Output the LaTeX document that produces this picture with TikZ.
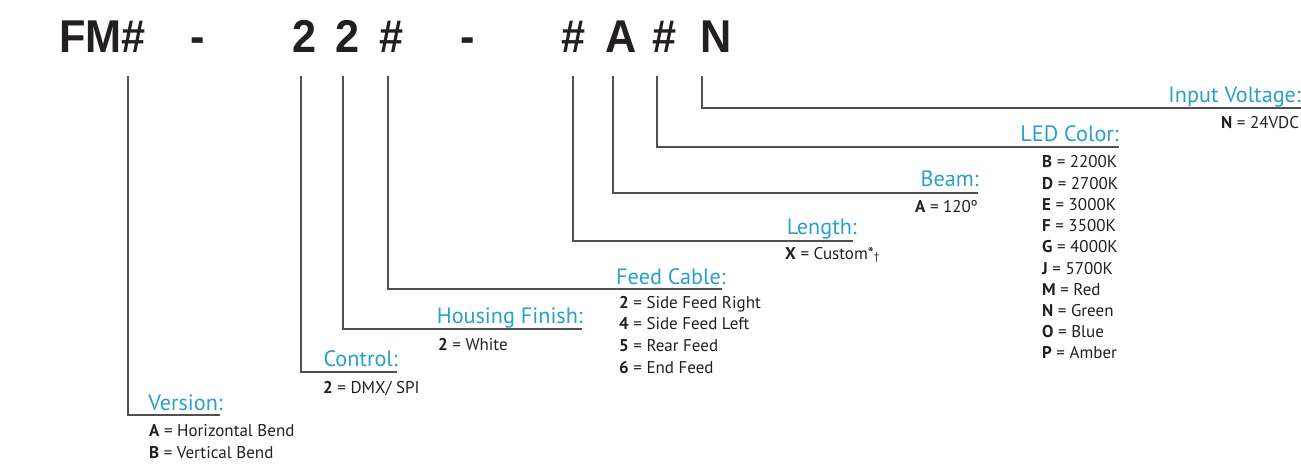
\documentclass[tikz,border=0pt]{standalone}
\usepackage{fontspec}
\setmainfont{PT Sans}
\newfontfamily\ttlfont[FakeStretch=0.94]{Liberation Sans}
\definecolor{labelblue}{RGB}{41,160,204}
\definecolor{textdark}{RGB}{35,31,32}
\definecolor{linegray}{RGB}{80,80,80}
\tikzset{
  lbl/.style={font=\fontsize{22.2}{22.2}\selectfont, text=labelblue, anchor=base east, inner sep=0pt},
  item/.style={font=\fontsize{17}{17}\selectfont, text=textdark, anchor=base west, inner sep=0pt},
  ttl/.style={font=\ttlfont\bfseries\fontsize{46}{46}\selectfont, text=textdark, anchor=base, inner sep=0pt},
  conn/.style={draw=linegray, line width=1.5pt},
}
\begin{document}
\begin{tikzpicture}[x=1pt,y=-1pt]
\useasboundingbox (0,0) rectangle (1301,465);
% title
\node[ttl] (t1) at (102.5,53) {FM\#};
\node[ttl] (t2) at (197.5,53) {-};
\node[ttl] (t3) at (304.5,53) {2};
\node[ttl] (t4) at (348,53) {2};
\node[ttl] (t5) at (392,53) {\#};
\node[ttl] (t6) at (467.5,53) {-};
\node[ttl] (t7) at (574,53) {\#};
\node[ttl] (t8) at (621,53) {A};
\node[ttl] (t9) at (665,53) {\#};
\node[ttl] (t10) at (716,53) {N};
% connector start points
\coordinate (s1) at (128,76);
\coordinate (s2) at (301,76);
\coordinate (s3) at (343,76);
\coordinate (s4) at (388,76);
\coordinate (s5) at (573,76);
\coordinate (s6) at (613,76);
\coordinate (s7) at (657,76);
\coordinate (s8) at (702,76);
% connector end points
\coordinate (e1) at (220,415);
\coordinate (e2) at (397,372);
\coordinate (e3) at (582,329);
\coordinate (e4) at (722,289);
\coordinate (e5) at (853,241);
\coordinate (e6) at (978,193);
\coordinate (e7) at (1119,147);
\coordinate (e8) at (1301,108);
\foreach \i in {1,...,8} \draw[conn] (s\i) |- (e\i);
% labels
\node[lbl] (l1) at (223,410) {Version:};
\node[lbl] (l2) at (398,366) {Control:};
\node[lbl] (l3) at (583,323) {Housing Finish:};
\node[lbl] (l4) at (726,284) {Feed Cable:};
\node[lbl] (l5) at (857,234) {Length:};
\node[lbl] (l6) at (979,187) {Beam:};
\node[lbl] (l7) at (1119,142) {LED Color:};
\node[lbl] (l8) at (1301,103) {Input Voltage:};
% items
\node[item] (v1) at (149,436) {\textbf{A} = Horizontal Bend};
\node[item] (v2) at (149,458) {\textbf{B} = Vertical Bend};
\node[item] (c1) at (323,393) {\textbf{2} = DMX/ SPI};
\node[item] (h1) at (438,350) {\textbf{2} = White};
\foreach \k/\v [count=\i] in {2/Side Feed Right,4/Side Feed Left,5/Rear Feed,6/End Feed}
  \node[item, name=f\i] at (619,{308+21.7*(\i-1)}) {\textbf{\k} = \v};
\node[item] (g1) at (785,259) {\textbf{X} = Custom*{\fontsize{11}{11}\selectfont\raisebox{-1pt}{†}}};
\node[item] (b1) at (915,213) {\textbf{A} = 120º};
\foreach \k/\v [count=\i] in {B/2200K,D/2700K,E/3000K,F/3500K,G/4000K,J/5700K,M/Red,N/Green,O/Blue,P/Amber}
  \node[item, name=led\i] at (1042,{168+21.2*(\i-1)}) {\textbf{\k} = \v};
\node[item] (n1) at (1221,129) {\textbf{N} = 24VDC};
\end{tikzpicture}
\end{document}
